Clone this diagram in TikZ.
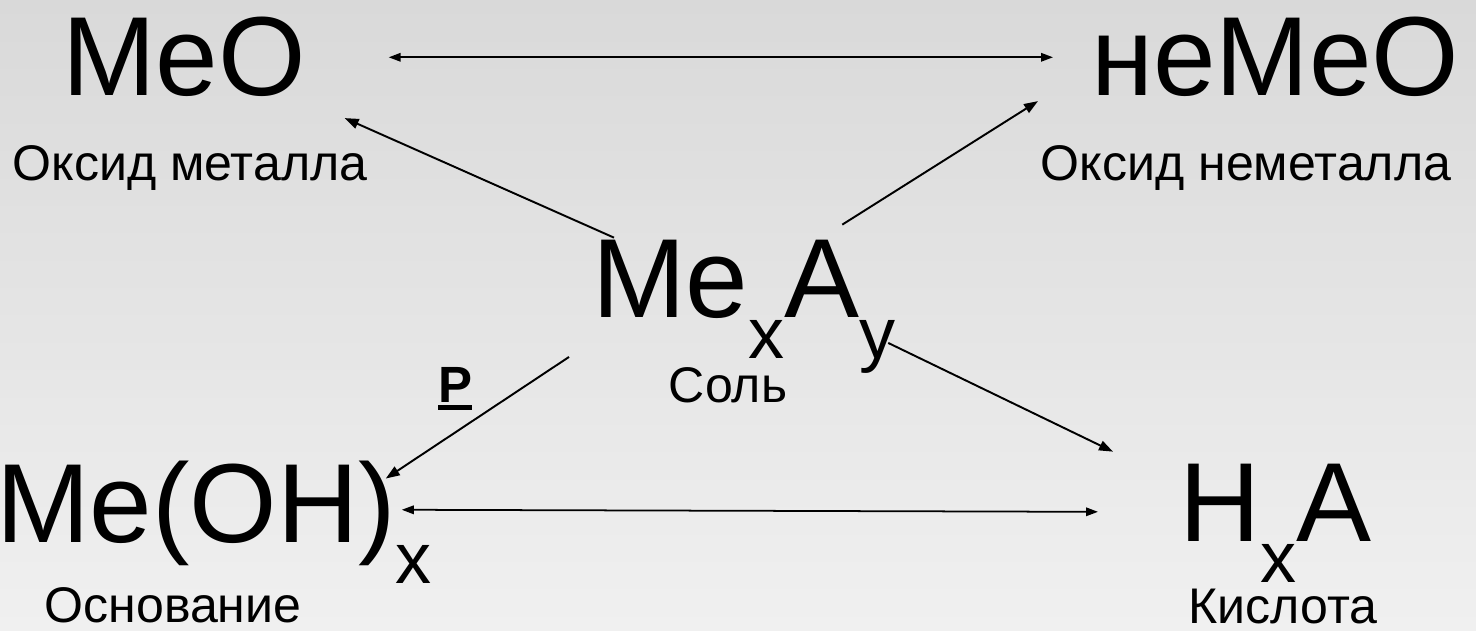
\documentclass[tikz,border=0pt]{standalone}
\usepackage{fontspec}
\setmainfont{Liberation Sans}
\usepackage{tikz}
\usetikzlibrary{arrows.meta,calc}

\newcommand{\lowsub}[1]{\raisebox{-0.82cm}{\fontsize{41}{41}\selectfont #1}}
\newcommand{\ulword}[1]{\setbox0\hbox{#1}\rlap{\raisebox{-0.16cm}{\rule{\wd0}{0.1cm}}}#1}

\begin{document}
\begin{tikzpicture}[
  x=0.02cm,
  y=-0.02cm,
  formula/.style={inner sep=0pt,outer sep=0pt,anchor=base west,
    font=\fontsize{64}{70}\selectfont,text=black},
  caption/.style={inner sep=0pt,outer sep=0pt,anchor=base,
    font=\fontsize{28.5}{32}\selectfont,text=black},
  diag/.style={-{Triangle[length=0.28cm,width=0.2cm]},line width=1.1pt},
  pair/.style={{Triangle[length=0.24cm,width=0.17cm]}-{Triangle[length=0.24cm,width=0.17cm]},
    line width=1pt}
]
  \definecolor{bgtop}{HTML}{D9D9D9}
  \definecolor{bgbottom}{HTML}{F0F0F0}

  \useasboundingbox (0,0) rectangle (1476,630);
  \shade[top color=bgtop,bottom color=bgbottom] (0,0) rectangle (1476,630);

  % formulas
  \node[formula] (meo) at (62,95) {MeO};
  \node[formula] (nemeo) at (1091,95) {неMeO};
  \node[formula] (salt) at (592,317) {Me\lowsub{x}A\lowsub{y}};
  \node[formula] (meoh) at (-4,542) {Me(OH)\lowsub{x}};
  \node[formula] (hxa) at (1179,541) {H\lowsub{x}A};

  % captions
  \node[caption] (lmeo) at (190,180) {Оксид металла};
  \node[caption] (lnemeo) at (1246,180) {Оксид неметалла};
  \node[caption] (lsalt) at (728,402) {Соль};
  \node[caption] (lmeoh) at (173,622) {Основание};
  \node[caption] (lhxa) at (1283,623) {Кислота};
  \node[caption,font=\fontsize{29}{32}\selectfont\bfseries] (lp) at (455,402)
    {\ulword{P}};

  % connections
  \draw[pair] ($(meo.east)+(83,1)$) -- ($(nemeo.west)+(-38,1)$);
  \draw[pair] ($(meoh.east)+(-30,-12)$) -- ($(hxa.west)+(-81,-11)$);
  \draw[diag] ($(salt.north west)+(22,-2)$) -- ($(meo.south east)+(39,22)$);
  \draw[diag] ($(salt.north east)+(-53,-15)$) -- ($(nemeo.south west)+(-53,5)$);
  \draw[diag] ($(salt.south west)+(-23,-16)$) -- ($(meoh.north east)+(-46,18)$);
  \draw[diag] ($(salt.south east)+(-7,-30)$) -- ($(hxa.north west)+(-66,-12)$);
\end{tikzpicture}
\end{document}
